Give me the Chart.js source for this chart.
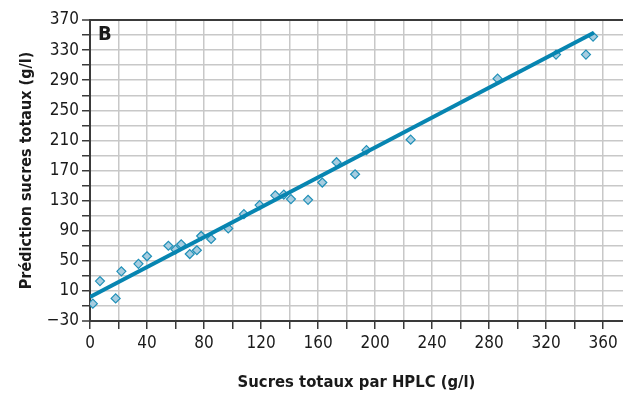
<!DOCTYPE html>
<html>
<head>
<meta charset="utf-8">
<script src="https://cdn.jsdelivr.net/npm/chart.js@4/dist/chart.umd.min.js"></script>
<style>
  html, body { margin: 0; padding: 0; background: #fff; overflow: hidden; }
  canvas { display: block; }
</style>
</head>
<body>
<canvas id="chart" width="623" height="394"></canvas>
<script>
// Sucres totaux : mesure HPLC vs prédiction (g/l)
const hplc = [2, 7, 18, 22, 34, 40, 55, 60, 64, 70, 75, 78, 85, 97, 108, 119, 130, 136, 141, 153, 163, 173, 186, 194, 225, 286, 327, 348, 353];
const prediction = [-7, 23, 0, 36, 46, 56, 70, 65, 72, 59, 64, 83, 79, 93, 112, 124, 137, 138, 132, 131, 154, 181, 165, 197, 211, 292, 324, 324, 348];

// Droite de régression (extrémités)
const droiteX = [0, 353.5];
const droiteY = [2, 353];

// Graduations de l'axe horizontal (tous les 20, étiquette tous les 40)
const graduationsX = [0, 20, 40, 60, 80, 100, 120, 140, 160, 180, 200, 220, 240, 260, 280, 300, 320, 340, 360];

const FONT = "'DejaVu Sans Condensed', 'Liberation Sans Narrow', sans-serif";
const AXE = '#3a3a3a';
const GRILLE = '#c8c8c8';

// Lettre du panneau
const lettrePanneau = {
    id: 'lettrePanneau',
    afterDraw(chart) {
        const { ctx, chartArea } = chart;
        ctx.save();
        ctx.font = 'bold 20px ' + FONT;
        ctx.fillStyle = '#1a1a1a';
        ctx.textBaseline = 'top';
        ctx.fillText('B', chartArea.left + 8, chartArea.top + 5);
        ctx.restore();
    }
};

// lignes foncées : cadre haut (370) et axe bas (-30)
const bordY = v => v === 370 || v === -30;

const ctx = document.getElementById('chart').getContext('2d');
new Chart(ctx, {
    data: {
        datasets: [
            {
                type: 'line',
                data: droiteX.map((x, i) => ({ x: x, y: droiteY[i] })),
                borderColor: '#0785b1',
                borderWidth: 4,
                pointRadius: 0,
                fill: false,
                order: 0
            },
            {
                type: 'scatter',
                data: hplc.map((x, i) => ({ x: x, y: prediction[i] })),
                pointStyle: 'rectRot',
                pointRadius: 4.5,
                backgroundColor: '#a7cde0',
                borderColor: '#2090b8',
                borderWidth: 1.2,
                order: 1
            }
        ]
    },
    options: {
        responsive: false,
        animation: false,
        layout: { autoPadding: false, padding: { top: 20, right: 0, left: 0, bottom: 0 } },
        plugins: {
            legend: { display: false },
            tooltip: { enabled: false }
        },
        scales: {
            x: {
                type: 'linear',
                position: 'bottom',
                min: 0,
                max: 374,
                afterBuildTicks: s => { s.ticks = graduationsX.map(v => ({ value: v })); },
                afterFit: s => { s.height = 73; s.paddingLeft = 0; s.paddingRight = 0; },
                ticks: {
                    autoSkip: false,
                    maxRotation: 0,
                    padding: 4,
                    color: '#1a1a1a',
                    font: { family: FONT, size: 17 },
                    callback: v => (v % 40 === 0 ? String(v) : '')
                },
                grid: {
                    color: c => (c.tick && c.tick.value === 0 ? AXE : GRILLE),
                    lineWidth: 1.5,
                    tickColor: AXE,
                    tickLength: 8,
                    tickWidth: 1.5
                },
                border: { display: false },
                title: {
                    display: true,
                    text: 'Sucres totaux par HPLC (g/l)',
                    color: '#1a1a1a',
                    font: { family: FONT, size: 16.5, weight: 'bold' },
                    padding: { top: 0, bottom: 1 }
                }
            },
            y: {
                min: -30,
                max: 370,
                afterFit: s => { s.width = 90; },
                ticks: {
                    stepSize: 20,
                    autoSkip: false,
                    padding: 3,
                    color: '#1a1a1a',
                    font: { family: FONT, size: 17 },
                    callback: v => ((v + 30) % 40 === 0 ? String(v).replace('-', '\u2212') : '')
                },
                grid: {
                    color: c => (c.tick && bordY(c.tick.value) ? AXE : GRILLE),
                    lineWidth: c => (c.tick && bordY(c.tick.value) ? 2 : 1.5),
                    tickColor: AXE,
                    tickLength: 8,
                    tickWidth: 1.5
                },
                border: { color: AXE, width: 2 },
                title: {
                    display: true,
                    text: 'Prédiction sucres totaux (g/l)',
                    color: '#1a1a1a',
                    font: { family: FONT, size: 16, weight: 'bold' },
                    padding: { top: 17, bottom: 0 }
                }
            }
        }
    },
    plugins: [lettrePanneau]
});
</script>
</body>
</html>
